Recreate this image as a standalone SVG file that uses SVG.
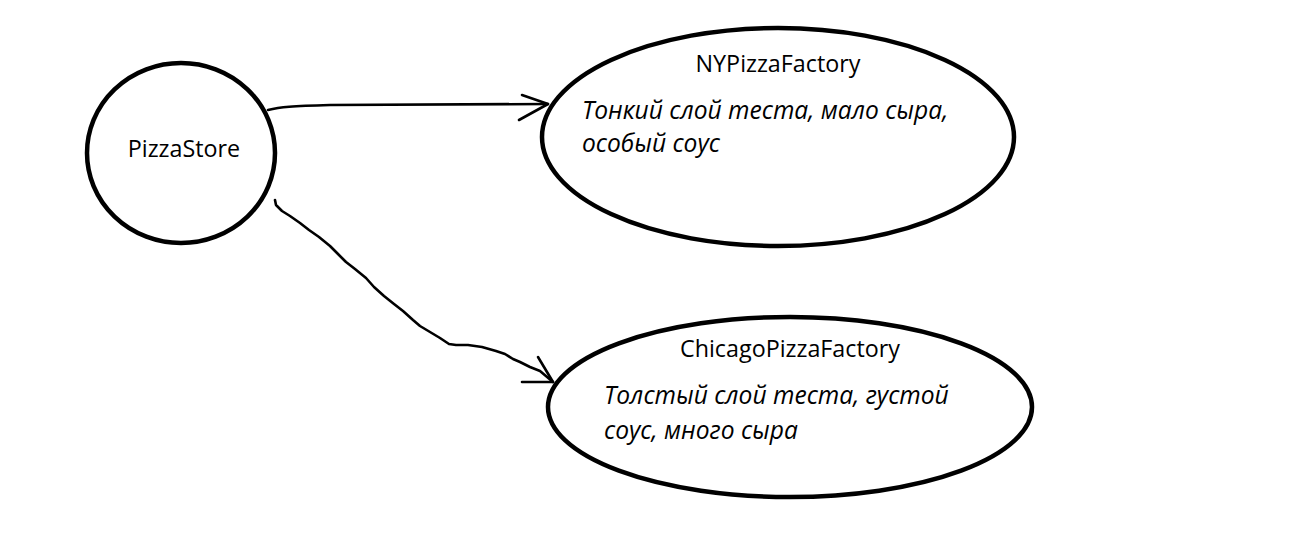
<svg xmlns="http://www.w3.org/2000/svg" width="1289" height="545" viewBox="0 0 1289 545">
<style>
.node{fill:#fff;stroke:#000;stroke-width:4.5}
.conn{fill:none;stroke:#000;stroke-width:2.6;stroke-linecap:round;stroke-linejoin:round}
.t{font-family:"Open Sans","Liberation Sans",sans-serif;font-size:23.3px;fill:#000}
.i{font-family:"Open Sans","Liberation Sans",sans-serif;font-size:24.6px;font-style:italic;fill:#000}
</style>
<rect width="1289" height="545" fill="#fff"/>
<g id="connectors">
<path class="conn" d="M268,110 C280,107 292,106 330,105 L548,104"/>
<path class="conn" d="M522,95 L548,104 L519,120"/>
<path class="conn" d="M275,200 L276,205 L282,211 L290,216 L300,223 L309,230 L319,237 L330,246 L338,254 L346,262 L355,269 L366,278 L374,287 L384,296 L394,304 L403,311 L413,320 L420,326 L430,332 L440,338 L449,344 L456,345 L468,345 L482,347 L496,351 L505,354 L513,359 L520,362 L530,367 L540,371 L553,382"/>
<path class="conn" d="M538,357 L553,382 L522,382"/>
</g>
<g id="PizzaStore">
<ellipse class="node" cx="181" cy="153" rx="94" ry="90"/>
<text class="t" x="184" y="157" text-anchor="middle">PizzaStore</text>
</g>
<g id="NYPizzaFactory">
<ellipse class="node" cx="778" cy="137" rx="236" ry="109"/>
<text class="t" x="778" y="72" text-anchor="middle">NYPizzaFactory</text>
<text class="i" x="582" y="119">Тонкий слой теста, мало сыра,</text>
<text class="i" x="582" y="152">особый соус</text>
</g>
<g id="ChicagoPizzaFactory">
<ellipse class="node" cx="790" cy="407" rx="242" ry="90"/>
<text class="t" x="790" y="357" text-anchor="middle">ChicagoPizzaFactory</text>
<text class="i" x="604" y="404">Толстый слой теста, густой</text>
<text class="i" x="604" y="439">соус, много сыра</text>
</g>
</svg>
